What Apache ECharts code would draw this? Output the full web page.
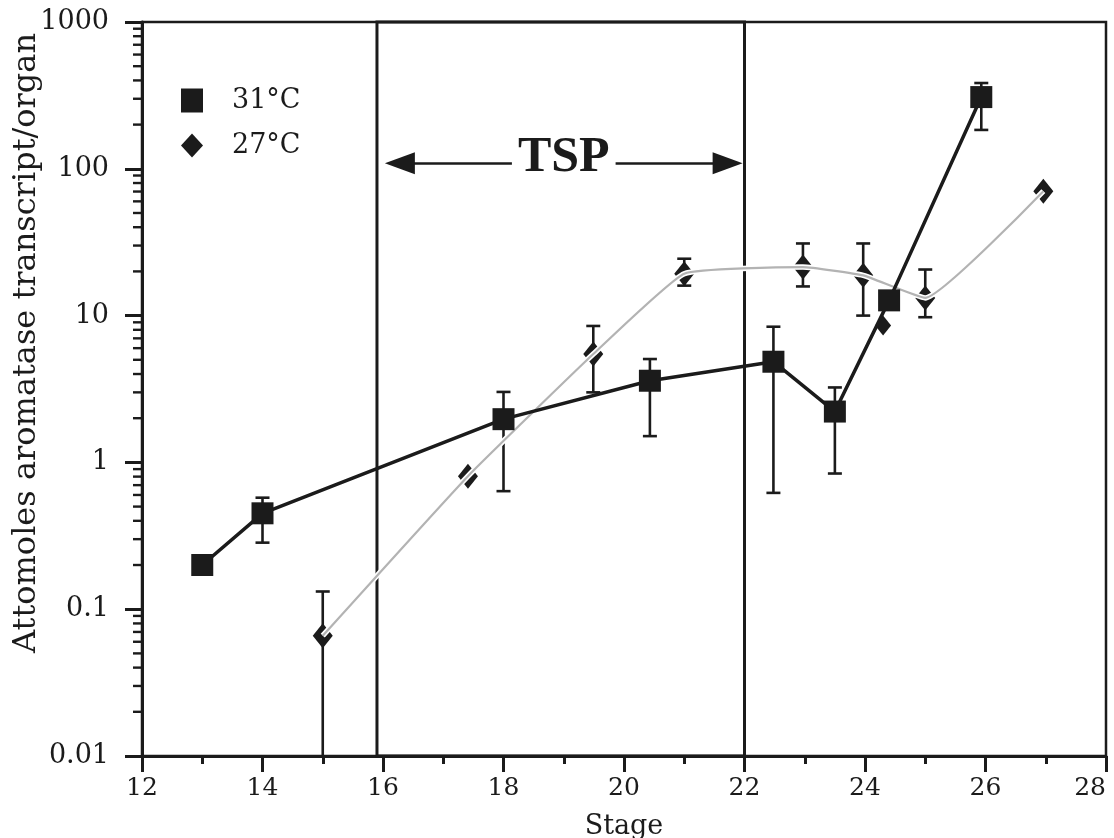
<!DOCTYPE html>
<html>
<head>
<meta charset="utf-8">
<script src="https://cdn.jsdelivr.net/npm/echarts@6/dist/echarts.min.js"></script>
<style>
  html, body { margin: 0; padding: 0; background: #fff; }
  #chart { width: 1114px; height: 838px; }
</style>
</head>
<body>
<div id="chart"></div>
<script>
// 31°C series (squares, black line)
const stage31 = [13, 14, 18, 20.43, 22.48, 23.5, 24.4, 25.93];
const value31 = [0.2, 0.45, 1.97, 3.6, 4.85, 2.22, 12.7, 308];
const low31 = [null, 0.284, 0.637, 1.51, 0.62, 0.84, null, 184];
const high31 = [null, 0.575, 3.02, 5.06, 8.4, 3.24, null, 384];

// 27°C series (diamonds, grey line)
const stage27 = [15, 17.41, 19.49, 21, 22.97, 23.97, 25.0, 26.96];
const value27 = [0.066, 0.806, 5.47, 19.3, 21.4, 18.8, 13.2, 70.4];
const low27 = [0.005, null, 3.0, 16, 15.8, 10, 9.75, null];
const high27 = [0.132, null, 8.5, 24.4, 31, 31, 20.6, 80];
// lone 27°C point not on the line
const loneStage27 = [24.3];
const loneValue27 = [8.55];

// TSP window and its arrow
const tspRange = [15.9, 22.0];
const tspArrow = [16.28, 21.72];
const tspArrowLevel = 109;

// axes
const xMin = 12, xMax = 28, xStep = 2;
const yMin = 0.01, yMax = 1000;
const yMinorTicks = [];
for (let d = 0.01; d < yMax; d *= 10) {
  for (let k = 2; k <= 9; k++) yMinorTicks.push(+(d * k).toPrecision(3));
}

const FONT = 'DejaVu Serif';
const INK = '#1b1b1b';
const SMOOTH = 0.12;

function errRows(xs, lo, hi) {
  const rows = [];
  xs.forEach((x, i) => { if (lo[i] != null) rows.push([x, lo[i], hi[i]]); });
  return rows;
}

function renderErr(params, api) {
  const x = api.value(0);
  const top = api.coord([x, api.value(2)]);
  const bot = api.coord([x, api.value(1)]);
  const w = 7;
  const st = { stroke: INK, lineWidth: 2.6 };
  return {
    type: 'group',
    children: [
      { type: 'line', shape: { x1: top[0], y1: top[1], x2: bot[0], y2: bot[1] }, style: st },
      { type: 'line', shape: { x1: top[0] - w, y1: top[1], x2: top[0] + w, y2: top[1] }, style: st },
      { type: 'line', shape: { x1: bot[0] - w, y1: bot[1], x2: bot[0] + w, y2: bot[1] }, style: st },
    ],
  };
}

const points27 = stage27.map((x, i) => [x, value27[i]]);

const chart = echarts.init(document.getElementById('chart'));
chart.setOption({
  animation: false,
  backgroundColor: '#fff',
  grid: {
    left: 142, right: 8, top: 22, bottom: 82,
    outerBoundsMode: 'none',
    show: true, borderColor: INK, borderWidth: 2.5,
  },
  legend: {
    orient: 'vertical',
    left: 176,
    top: 82,
    itemGap: 18,
    itemWidth: 22,
    itemHeight: 24,
    textStyle: { fontFamily: FONT, fontSize: 27, color: INK, padding: [0, 0, 0, 24] },
    data: [
      { name: '31°C', icon: 'rect', itemStyle: { color: INK, opacity: 1 } },
      { name: '27°C', icon: 'diamond', itemStyle: { color: INK, opacity: 1 } },
    ],
  },
  xAxis: {
    type: 'value',
    min: xMin,
    max: xMax,
    interval: xStep,
    name: 'Stage',
    nameLocation: 'middle',
    nameGap: 57,
    nameTextStyle: { fontFamily: FONT, fontSize: 27, color: INK },
    axisLine: { lineStyle: { color: INK, width: 3 } },
    axisTick: { inside: false, length: 16, lineStyle: { color: INK, width: 3 } },
    minorTick: { show: true, splitNumber: 2, length: 8, lineStyle: { color: INK, width: 3 } },
    splitLine: { show: false },
    axisLabel: { fontFamily: FONT, fontSize: 25, color: INK, margin: 20, alignMaxLabel: 'right' },
  },
  yAxis: {
    type: 'log',
    logBase: 10,
    min: yMin,
    max: yMax,
    axisLine: { show: true, lineStyle: { color: INK, width: 3 } },
    axisTick: { show: true, inside: false, length: 17, lineStyle: { color: INK, width: 3 } },
    splitLine: { show: false },
    axisLabel: { fontFamily: FONT, fontSize: 27, color: INK, margin: 33, formatter: v => String(v) },
  },
  graphic: [{
    type: 'text',
    x: 27,
    y: 343,
    rotation: Math.PI / 2,
    style: {
      text: 'Attomoles aromatase transcript/organ',
      font: '32px "DejaVu Serif"',
      fill: INK,
      textAlign: 'center',
      textVerticalAlign: 'middle',
    },
  }],
  series: [
    {
      name: 'yMinor',
      type: 'custom',
      clip: false,
      silent: true,
      data: yMinorTicks.map(v => [xMin, v]),
      renderItem: (params, api) => {
        const p = api.coord([api.value(0), api.value(1)]);
        return { type: 'line', shape: { x1: p[0] - 9, y1: p[1], x2: p[0], y2: p[1] }, style: { stroke: INK, lineWidth: 2.4 } };
      },
    },
    {
      name: '31°C',
      type: 'line',
      data: stage31.map((x, i) => [x, value31[i]]),
      symbol: 'rect',
      symbolSize: 22,
      itemStyle: { color: INK },
      lineStyle: { color: INK, width: 3.5 },
      z: 6,
      markArea: {
        silent: true,
        itemStyle: { color: 'rgba(0,0,0,0)', borderColor: INK, borderWidth: 3 },
        data: [[{ xAxis: tspRange[0], yAxis: yMin }, { xAxis: tspRange[1], yAxis: yMax }]],
      },
      markLine: {
        silent: true,
        symbol: ['triangle', 'triangle'],
        symbolSize: [22, 30],
        lineStyle: { color: INK, width: 2.5, type: 'solid' },
        label: {
          show: true,
          position: 'middle',
          formatter: 'TSP',
          fontFamily: 'Liberation Serif',
          fontWeight: 'bold',
          fontSize: 50,
          color: INK,
          backgroundColor: '#fff',
          padding: [0, 6],
          distance: -20,
        },
        data: [[{ coord: [tspArrow[0], tspArrowLevel] }, { coord: [tspArrow[1], tspArrowLevel] }]],
      },
    },
    {
      name: '27°C',
      type: 'scatter',
      data: points27,
      symbol: 'diamond',
      symbolSize: [20, 25],
      itemStyle: { color: INK, opacity: 1 },
      z: 3,
    },
    {
      name: '27°C',
      type: 'scatter',
      data: loneStage27.map((x, i) => [x, loneValue27[i]]),
      symbol: 'diamond',
      symbolSize: [16, 20],
      itemStyle: { color: INK, opacity: 1 },
      z: 3,
    },
    {
      name: 'halo27',
      type: 'line',
      smooth: SMOOTH,
      data: points27,
      showSymbol: false,
      silent: true,
      lineStyle: { color: '#fff', width: 5.5 },
      z: 4,
    },
    {
      name: 'line27',
      type: 'line',
      smooth: SMOOTH,
      data: points27,
      showSymbol: false,
      silent: true,
      lineStyle: { color: '#b3b3b3', width: 2.2 },
      z: 5,
    },
    {
      name: 'err31',
      type: 'custom',
      clip: true,
      silent: true,
      data: errRows(stage31, low31, high31),
      renderItem: renderErr,
      z: 2,
    },
    {
      name: 'err27',
      type: 'custom',
      clip: true,
      silent: true,
      data: errRows(stage27, low27, high27),
      renderItem: renderErr,
      z: 2,
    },
  ],
});
</script>
</body>
</html>
